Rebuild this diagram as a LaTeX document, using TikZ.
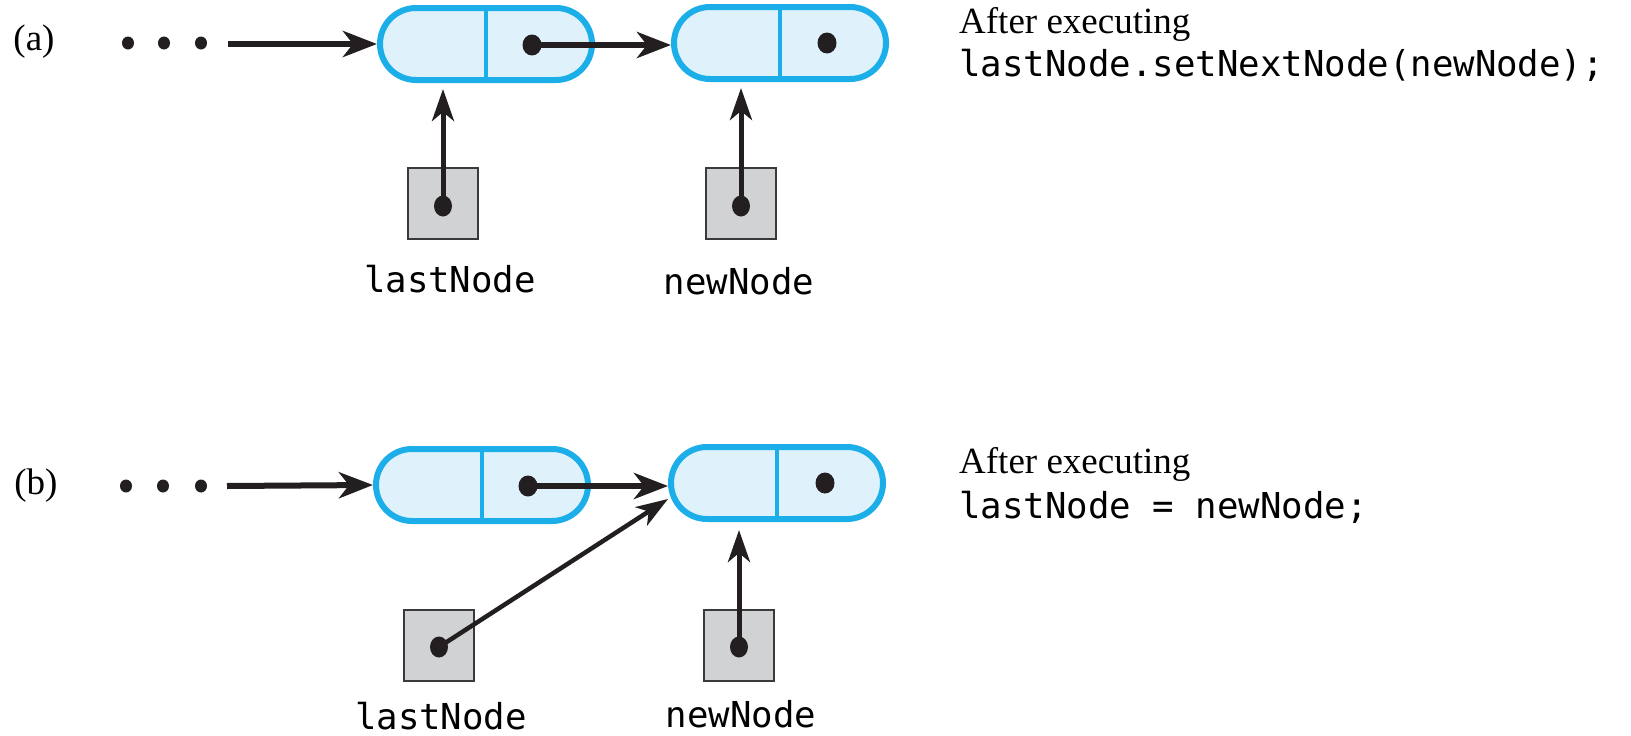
\documentclass[tikz,border=0pt]{standalone}
\usepackage{fontspec}
\setmainfont{Liberation Serif}
\setmonofont{DejaVu Sans Mono}
\usetikzlibrary{shapes.misc,shapes.geometric,arrows.meta}
\definecolor{linkcyan}{HTML}{1BAEE8}
\definecolor{linkfill}{HTML}{DFF2FB}
\definecolor{refgray}{HTML}{D1D2D4}
\definecolor{refedge}{HTML}{3A3A3C}
\definecolor{ink}{HTML}{231F20}

\begin{document}
\begin{tikzpicture}[x=1pt,y=-1pt,
  listnode/.style={rounded rectangle, draw=linkcyan, fill=linkfill, line width=6pt,
    minimum width=212pt, minimum height=72pt, inner sep=0pt},
  divider/.style={draw=linkcyan, line width=4.5pt},
  refbox/.style={rectangle, draw=refedge, fill=refgray, line width=2pt,
    minimum width=70pt, minimum height=71pt, inner sep=0pt},
  linkdot/.style={ellipse, fill=ink, inner sep=0pt, minimum width=19pt, minimum height=21pt},
  refdot/.style={ellipse, fill=ink, inner sep=0pt, minimum width=18pt, minimum height=21pt},
  ellipsisdot/.style={ellipse, fill=ink, inner sep=0pt, minimum width=12pt, minimum height=13pt},
  harrow/.style={draw=ink, line width=6pt, -{Stealth[length=34pt,width=26pt,inset=10pt]}},
  varrow/.style={draw=ink, line width=5pt, -{Stealth[length=32pt,width=22pt,inset=9pt]}},
  darrow/.style={draw=ink, line width=4.5pt, -{Stealth[length=32pt,width=22pt,inset=9pt]}},
  serif/.style={font=\fontsize{37}{42}\selectfont, inner sep=0pt},
  code/.style={font=\ttfamily\fontsize{35.7}{40}\selectfont, inner sep=0pt},
]
\useasboundingbox (0,0) rectangle (1631,736);

% ---------- (a) after lastNode.setNextNode(newNode) ----------
\node[serif] (alabel) at (34,42) {(a)};
\node[ellipsisdot] (ad1) at (128,43) {};
\node[ellipsisdot] (ad2) at (164,43) {};
\node[ellipsisdot] (ad3) at (201,43) {};
\coordinate (aStart) at (228,44);

\node[listnode] (a1) at (486,44) {};
\draw[divider] (a1.north) -- (a1.south);
\node[linkdot] (a1dot) at (532,45) {};

\node[listnode] (a2) at (780,43) {};
\draw[divider] (a2.north) -- (a2.south);
\node[linkdot] (a2dot) at (827,43) {};

\node[refbox] (aL) at (443,203) {};
\node[refdot] (aLdot) at (443,206) {};
\node[refbox] (aN) at (741,203) {};
\node[refdot] (aNdot) at (741,206) {};

\draw[harrow] (aStart) -- (a1.west);
\draw[harrow] (a1dot.center) -- (a1dot.center -| a2.west);
\draw[varrow, shorten >=6pt] (aLdot.center) -- (aLdot.center |- a1.south);
\draw[varrow, shorten >=6pt] (aNdot.center) -- (aNdot.center |- a2.south);

\node[code, anchor=base] (aLname) at (450,292) {lastNode};
\node[code, anchor=base] (aNname) at (739,294) {newNode};
\node[serif, anchor=base west] (aafter) at (959,34) {After executing};
\node[code, anchor=base west] (acode) at (959,76) {lastNode.setNextNode(newNode);};

% ---------- (b) after lastNode = newNode ----------
\node[serif] (blabel) at (36,486) {(b)};
\node[ellipsisdot] (bd1) at (126,486) {};
\node[ellipsisdot] (bd2) at (163,486) {};
\node[ellipsisdot] (bd3) at (201,486) {};
\coordinate (bStart) at (227,486);

\node[listnode] (b1) at (482,485) {};
\draw[divider] (b1.north) -- (b1.south);
\node[linkdot] (b1dot) at (528,486) {};

\node[listnode] (b2) at (777,483) {};
\draw[divider] (b2.north) -- (b2.south);
\node[linkdot] (b2dot) at (825,483) {};

\node[refbox] (bL) at (439,645) {};
\node[refdot] (bLdot) at (439,647) {};
\node[refbox] (bN) at (739,645) {};
\node[refdot] (bNdot) at (739,647) {};
\coordinate (bTip) at (668,499);

\draw[harrow] (bStart) -- (b1.west);
\draw[harrow] (b1dot.center) -- (b1dot.center -| b2.west);
\draw[darrow] (bLdot.center) -- (bTip);
\draw[varrow, shorten >=8pt] (bNdot.center) -- (bNdot.center |- b2.south);

\node[code, anchor=base] (bLname) at (441,729) {lastNode};
\node[code, anchor=base] (bNname) at (741,727) {newNode};
\node[serif, anchor=base west] (bafter) at (959,473) {After executing};
\node[code, anchor=base west] (bcode) at (959,518) {lastNode = newNode;};
\end{tikzpicture}
\end{document}
